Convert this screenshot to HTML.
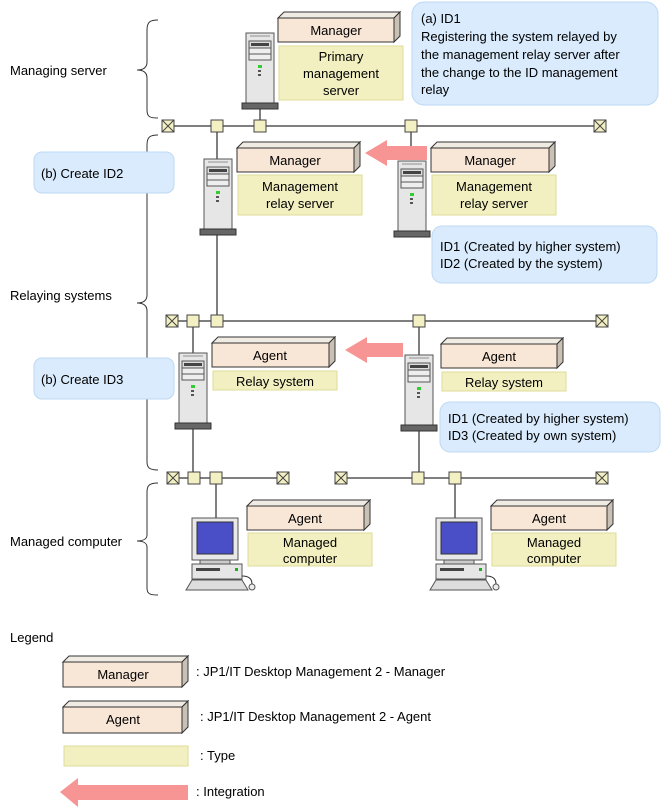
<!DOCTYPE html>
<html><head><meta charset="utf-8"><style>
html,body{margin:0;padding:0;background:#fff}
svg{display:block}
text{font-family:"Liberation Sans",sans-serif;font-size:13px;fill:#000}
.m{text-anchor:middle}
.ln{stroke:#555;stroke-width:1.5;fill:none}
.fr{fill:#f8e6d6;stroke:#333;stroke-width:1}
.tp{fill:#f0ece4;stroke:#333;stroke-width:1}
.sd{fill:#c9c0b6;stroke:#333;stroke-width:1}
.ty{fill:#f2f0c0;stroke:#dedd98;stroke-width:1}
.co{fill:#d9ebfc;stroke:#bdd8f5;stroke-width:1}
.nd{fill:#f3f0c4;stroke:#444;stroke-width:1}
.br{stroke:#333;stroke-width:1;fill:none}
</style></head><body>
<svg width="662" height="811" viewBox="0 0 662 811" xmlns="http://www.w3.org/2000/svg">
<defs>
<g id="tower">
<rect x="0" y="0" width="28" height="70" fill="#e6e6e6" stroke="#555"/>
<rect x="4" y="2" width="20" height="2" fill="#bbb"/>
<rect x="3" y="8" width="22" height="7" fill="#ddd" stroke="#555"/>
<rect x="5" y="10" width="18" height="3" fill="#444"/>
<rect x="3" y="15" width="22" height="6" fill="#eee" stroke="#555"/>
<rect x="3" y="21" width="22" height="6" fill="#eee" stroke="#555"/>
<rect x="12" y="32" width="4" height="3" fill="#3c3"/>
<rect x="12" y="37" width="3" height="2" fill="#555"/>
<rect x="12" y="41" width="3" height="2" fill="#555"/>
<rect x="-4" y="70" width="36" height="6" fill="#666" stroke="#333"/>
</g>
<g id="pc">
<rect x="6" y="0" width="46" height="42" fill="#e8e8e8" stroke="#555"/>
<rect x="11" y="4" width="36" height="32" fill="#4a4fc8" stroke="#333"/>
<rect x="14" y="42" width="30" height="4" fill="#ccc" stroke="#555"/>
<rect x="6" y="46" width="50" height="15" fill="#e6e6e6" stroke="#555"/>
<rect x="10" y="50" width="24" height="3" fill="#444"/>
<rect x="49" y="50" width="3" height="3" fill="#2a2"/>
<polygon points="0,72 6,62 56,62 62,72" fill="#ddd" stroke="#555"/>
<circle cx="66" cy="69" r="3" fill="#eee" stroke="#555"/>
<path d="M56,58 C64,58 66,62 66,66" class="br"/>
</g>
<g id="nx"><rect x="-6" y="-6" width="12" height="12" class="nd"/><path d="M-6,-6L6,6M6,-6L-6,6" stroke="#444"/></g>
<g id="nb"><rect x="-6" y="-6" width="12" height="12" class="nd"/></g>
</defs>

<path class="br" d="M158,20 C150,20 147,22 147,30 L147,62 C147,68 143,70 137,70 C143,70 147,72 147,78 L147,110 C147,117 150,118 158,118"/>
<path class="br" d="M158,135 C150,135 147,137 147,145 L147,295 C147,301 143,303 137,303 C143,303 147,305 147,311 L147,462 C147,468 150,470 158,470"/>
<path class="br" d="M158,483 C150,483 147,485 147,492 L147,535 C147,539 143,541 137,541 C143,541 147,543 147,547 L147,588 C147,594 150,595 158,595"/>
<text x="10" y="75">Managing server</text>
<text x="10" y="300">Relaying systems</text>
<text x="10" y="546">Managed computer</text>

<line class="ln" x1="168" y1="126" x2="600" y2="126"/>
<line class="ln" x1="172" y1="321" x2="602" y2="321"/>
<line class="ln" x1="173" y1="478" x2="283" y2="478"/>
<line class="ln" x1="341" y1="478" x2="602" y2="478"/>
<line class="ln" x1="260" y1="108" x2="260" y2="126"/>
<line class="ln" x1="217" y1="126" x2="217" y2="321"/>
<line class="ln" x1="411" y1="126" x2="411" y2="160"/>
<line class="ln" x1="193" y1="321" x2="193" y2="478"/>
<line class="ln" x1="419" y1="321" x2="419" y2="478"/>
<line class="ln" x1="216" y1="478" x2="216" y2="518"/>
<line class="ln" x1="455" y1="478" x2="455" y2="518"/>

<use href="#nx" x="168" y="126"/><use href="#nb" x="217" y="126"/><use href="#nb" x="260" y="126"/><use href="#nb" x="411" y="126"/><use href="#nx" x="600" y="126"/>
<use href="#nx" x="172" y="321"/><use href="#nb" x="193" y="321"/><use href="#nb" x="217" y="321"/><use href="#nb" x="419" y="321"/><use href="#nx" x="602" y="321"/>
<use href="#nx" x="173" y="478"/><use href="#nb" x="194" y="478"/><use href="#nb" x="216" y="478"/><use href="#nx" x="283" y="478"/>
<use href="#nx" x="341" y="478"/><use href="#nb" x="418" y="478"/><use href="#nb" x="455" y="478"/><use href="#nx" x="602" y="478"/>

<use href="#tower" x="246" y="33"/>
<use href="#tower" x="204" y="159"/>
<use href="#tower" x="398" y="161"/>
<use href="#tower" x="179" y="353"/>
<use href="#tower" x="405" y="355"/>
<use href="#pc" x="186" y="518"/>
<use href="#pc" x="430" y="518"/>

<polygon points="365,153 387,140 387,146 427,146 427,160 387,160 387,166" fill="#f79494"/>
<polygon points="345,350 367,337 367,343 403,343 403,357 367,357 367,363" fill="#f79494"/>

<g>
<rect class="fr" x="278" y="18" width="116" height="24"/><polygon class="tp" points="278,18 284,12 400,12 394,18"/><polygon class="sd" points="394,18 400,12 400,36 394,42"/><text class="m" x="336" y="35">Manager</text>
<rect class="fr" x="237" y="148" width="117" height="24"/><polygon class="tp" points="237,148 243,142 360,142 354,148"/><polygon class="sd" points="354,148 360,142 360,166 354,172"/><text class="m" x="295" y="165">Manager</text>
<rect class="fr" x="431" y="148" width="118" height="24"/><polygon class="tp" points="431,148 437,142 555,142 549,148"/><polygon class="sd" points="549,148 555,142 555,166 549,172"/><text class="m" x="490" y="165">Manager</text>
<rect class="fr" x="212" y="343" width="117" height="24"/><polygon class="tp" points="212,343 218,337 335,337 329,343"/><polygon class="sd" points="329,343 335,337 335,361 329,367"/><text class="m" x="270" y="360">Agent</text>
<rect class="fr" x="441" y="344" width="116" height="24"/><polygon class="tp" points="441,344 447,338 563,338 557,344"/><polygon class="sd" points="557,344 563,338 563,362 557,368"/><text class="m" x="499" y="361">Agent</text>
<rect class="fr" x="247" y="506" width="117" height="24"/><polygon class="tp" points="247,506 253,500 370,500 364,506"/><polygon class="sd" points="364,506 370,500 370,524 364,530"/><text class="m" x="305" y="523">Agent</text>
<rect class="fr" x="491" y="506" width="116" height="24"/><polygon class="tp" points="491,506 497,500 613,500 607,506"/><polygon class="sd" points="607,506 613,500 613,524 607,530"/><text class="m" x="549" y="523">Agent</text>
<rect class="fr" x="63" y="662" width="119" height="25"/><polygon class="tp" points="63,662 69,656 188,656 182,662"/><polygon class="sd" points="182,662 188,656 188,681 182,687"/><text class="m" x="123" y="679">Manager</text>
<rect class="fr" x="63" y="707" width="119" height="26"/><polygon class="tp" points="63,707 69,701 188,701 182,707"/><polygon class="sd" points="182,707 188,701 188,727 182,733"/><text class="m" x="123" y="724">Agent</text>
</g>

<rect class="ty" x="279" y="46" width="124" height="54"/>
<text class="m" x="341" y="61">Primary</text><text class="m" x="341" y="78">management</text><text class="m" x="341" y="95">server</text>
<rect class="ty" x="238" y="175" width="124" height="40"/>
<text class="m" x="300" y="191">Management</text><text class="m" x="300" y="208">relay server</text>
<rect class="ty" x="432" y="175" width="124" height="40"/>
<text class="m" x="494" y="191">Management</text><text class="m" x="494" y="208">relay server</text>
<rect class="ty" x="213" y="371" width="124" height="19"/><text class="m" x="275" y="386">Relay system</text>
<rect class="ty" x="442" y="372" width="124" height="19"/><text class="m" x="504" y="387">Relay system</text>
<rect class="ty" x="248" y="533" width="124" height="33"/>
<text class="m" x="310" y="547">Managed</text><text class="m" x="310" y="563">computer</text>
<rect class="ty" x="492" y="533" width="124" height="33"/>
<text class="m" x="554" y="547">Managed</text><text class="m" x="554" y="563">computer</text>
<rect class="ty" x="64" y="746" width="124" height="20"/>

<rect class="co" x="412" y="2" width="246" height="103" rx="12"/>
<text x="421" y="23">(a) ID1</text>
<text x="421" y="41">Registering the system relayed by</text>
<text x="421" y="59">the management relay server after</text>
<text x="421" y="77">the change to the ID management</text>
<text x="421" y="94">relay</text>
<rect class="co" x="34" y="152" width="140" height="41" rx="8"/>
<text x="41" y="178">(b) Create ID2</text>
<rect class="co" x="34" y="358" width="140" height="41" rx="8"/>
<text x="41" y="384">(b) Create ID3</text>
<rect class="co" x="432" y="226" width="225" height="57" rx="10"/>
<text x="440" y="251">ID1 (Created by higher system)</text>
<text x="440" y="268">ID2 (Created by the system)</text>
<rect class="co" x="440" y="402" width="220" height="50" rx="10"/>
<text x="448" y="423">ID1 (Created by higher system)</text>
<text x="448" y="440">ID3 (Created by own system)</text>

<text x="10" y="642">Legend</text>
<text x="196" y="676">: JP1/IT Desktop Management 2 - Manager</text>
<text x="200" y="721">: JP1/IT Desktop Management 2 - Agent</text>
<text x="200" y="760">:  Type</text>
<polygon points="60,792 78,778 78,785 188,785 188,800 78,800 78,807" fill="#f79494"/>
<text x="196" y="796">: Integration</text>
</svg>
</body></html>
